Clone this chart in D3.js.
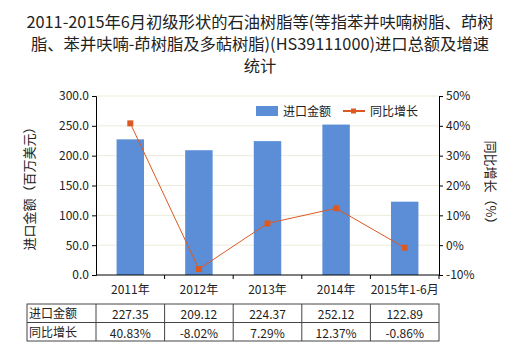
<!DOCTYPE html>
<html><head><meta charset="utf-8">
<script src="https://cdn.jsdelivr.net/npm/d3@7"></script>
<style>body{margin:0;background:#fff;} svg{display:block;font-family:"Noto Sans CJK SC","Noto Sans",sans-serif;}</style>
</head><body>
<script>
const categories = ["2011年","2012年","2013年","2014年","2015年1-6月"];
const importValues = [227.35,209.12,224.37,252.12,122.89];
const growthValues = [40.83,-8.02,7.29,12.37,-0.86];
const importLabels = ["227.35","209.12","224.37","252.12","122.89"];
const growthLabels = ["40.83%","-8.02%","7.29%","12.37%","-0.86%"];
const leftTicks = [0,50,100,150,200,250,300];
const rightTicks = [-10,0,10,20,30,40,50];
const titleLines = ["2011-2015年6月初级形状的石油树脂等(等指苯并呋喃树脂、茚树","脂、苯并呋喃-茚树脂及多萜树脂)(HS39111000)进口总额及增速","统计"];

const W=520,H=350;
const svg=d3.select("body").append("svg").attr("width",W).attr("height",H);
const x0=96,x1=439,yTop=96,yBot=275;
const x=d3.scaleBand().domain(categories).range([x0,x1]);
const yL=d3.scaleLinear().domain([0,300]).range([yBot,yTop]);
const yR=d3.scaleLinear().domain([-10,50]).range([yBot,yTop]);
const barColor="#5b8ed6", lineColor="#dc5a22", txt="#222";

// title
svg.append("g").selectAll("text").data(titleLines).join("text")
  .attr("x",W/2).attr("y",(d,i)=>28+i*22).attr("text-anchor","middle")
  .attr("font-size",16.3).attr("fill",txt).text(d=>d);

// grid
svg.append("g").selectAll("line").data(leftTicks.filter(d=>d>0)).join("line")
  .attr("x1",x0).attr("x2",x1).attr("y1",d=>yL(d)).attr("y2",d=>yL(d))
  .attr("stroke","#ecebd9").attr("stroke-width",1);

// bars
svg.append("g").selectAll("rect").data(importValues).join("rect")
  .attr("x",(d,i)=>x(categories[i])+x.bandwidth()*0.3)
  .attr("width",x.bandwidth()*0.4)
  .attr("y",d=>yL(d)).attr("height",d=>yBot-yL(d)).attr("fill",barColor);

// axes
const axL=svg.append("g").attr("transform",`translate(${x0},0)`)
  .call(d3.axisLeft(yL).tickValues(leftTicks).tickFormat(d3.format(".1f")).tickSize(4));
const axR=svg.append("g").attr("transform",`translate(${x1},0)`)
  .call(d3.axisRight(yR).tickValues(rightTicks).tickFormat(d=>d+"%").tickSize(4));
const axB=svg.append("g").attr("transform",`translate(0,${yBot})`)
  .call(d3.axisBottom(x).tickSize(0).tickPadding(10));
// boundary ticks
svg.append("g").selectAll("line").data(categories).join("line")
  .attr("x1",d=>x(d)+x.bandwidth()).attr("x2",d=>x(d)+x.bandwidth())
  .attr("y1",yBot).attr("y2",yBot+4).attr("stroke","#000");
[axL,axR,axB].forEach(a=>{
  a.selectAll("path").attr("stroke","#000");
  a.selectAll("line").attr("stroke","#000");
  a.selectAll("text").attr("font-size",12).attr("fill",txt).attr("font-family","'Noto Sans CJK SC',sans-serif");
});
axB.selectAll(".domain").attr("d",`M${x0},0H${x1}`);

// line
const line=d3.line().x((d,i)=>x(categories[i])+x.bandwidth()/2).y(d=>yR(d));
svg.append("path").datum(growthValues).attr("d",line).attr("fill","none")
  .attr("stroke",lineColor).attr("stroke-width",1);
svg.append("g").selectAll("rect").data(growthValues).join("rect")
  .attr("x",(d,i)=>x(categories[i])+x.bandwidth()/2-3).attr("y",d=>yR(d)-3)
  .attr("width",6).attr("height",6).attr("fill",lineColor);

// axis titles
svg.append("text").attr("transform",`translate(34,${(yTop+yBot)/2}) rotate(-90)`)
  .attr("text-anchor","middle").attr("font-size",13).attr("fill",txt).text("进口金额（百万美元）");
svg.append("text").attr("transform",`translate(486,${(yTop+yBot)/2}) rotate(90)`)
  .attr("text-anchor","middle").attr("font-size",13).attr("fill",txt).text("同比增长（%）");

// legend
const lg=svg.append("g");
lg.append("rect").attr("x",256).attr("y",106).attr("width",22).attr("height",10).attr("fill",barColor);
lg.append("text").attr("x",283).attr("y",116).attr("font-size",12).attr("fill",txt).text("进口金额");
lg.append("line").attr("x1",343).attr("x2",365).attr("y1",111).attr("y2",111).attr("stroke",lineColor).attr("stroke-width",2);
lg.append("rect").attr("x",351).attr("y",108.5).attr("width",5).attr("height",5).attr("fill",lineColor);
lg.append("text").attr("x",370).attr("y",116).attr("font-size",12).attr("fill",txt).text("同比增长");

// table
const tx0=27, ty0=304, rowH=18.5;
const rows=[["进口金额",importLabels],["同比增长",growthLabels]];
const tg=svg.append("g");
tg.append("rect").attr("x",tx0).attr("y",ty0).attr("width",x1-tx0).attr("height",rowH*2)
  .attr("fill","none").attr("stroke","#444");
tg.append("line").attr("x1",tx0).attr("x2",x1).attr("y1",ty0+rowH).attr("y2",ty0+rowH).attr("stroke","#444");
[x0,...categories.map(c=>x(c)+x.bandwidth())].slice(0,5).forEach(v=>{
  tg.append("line").attr("x1",v).attr("x2",v).attr("y1",ty0).attr("y2",ty0+rowH*2).attr("stroke","#444");
});
rows.forEach((r,ri)=>{
  tg.append("text").attr("x",tx0+2).attr("y",ty0+ri*rowH+14).attr("font-size",12).attr("fill",txt).text(r[0]);
  r[1].forEach((v,i)=>{
    tg.append("text").attr("x",x(categories[i])+x.bandwidth()/2).attr("y",ty0+ri*rowH+15)
      .attr("text-anchor","middle").attr("font-size",12).attr("fill",txt).text(v);
  });
});
</script>
</body></html>
